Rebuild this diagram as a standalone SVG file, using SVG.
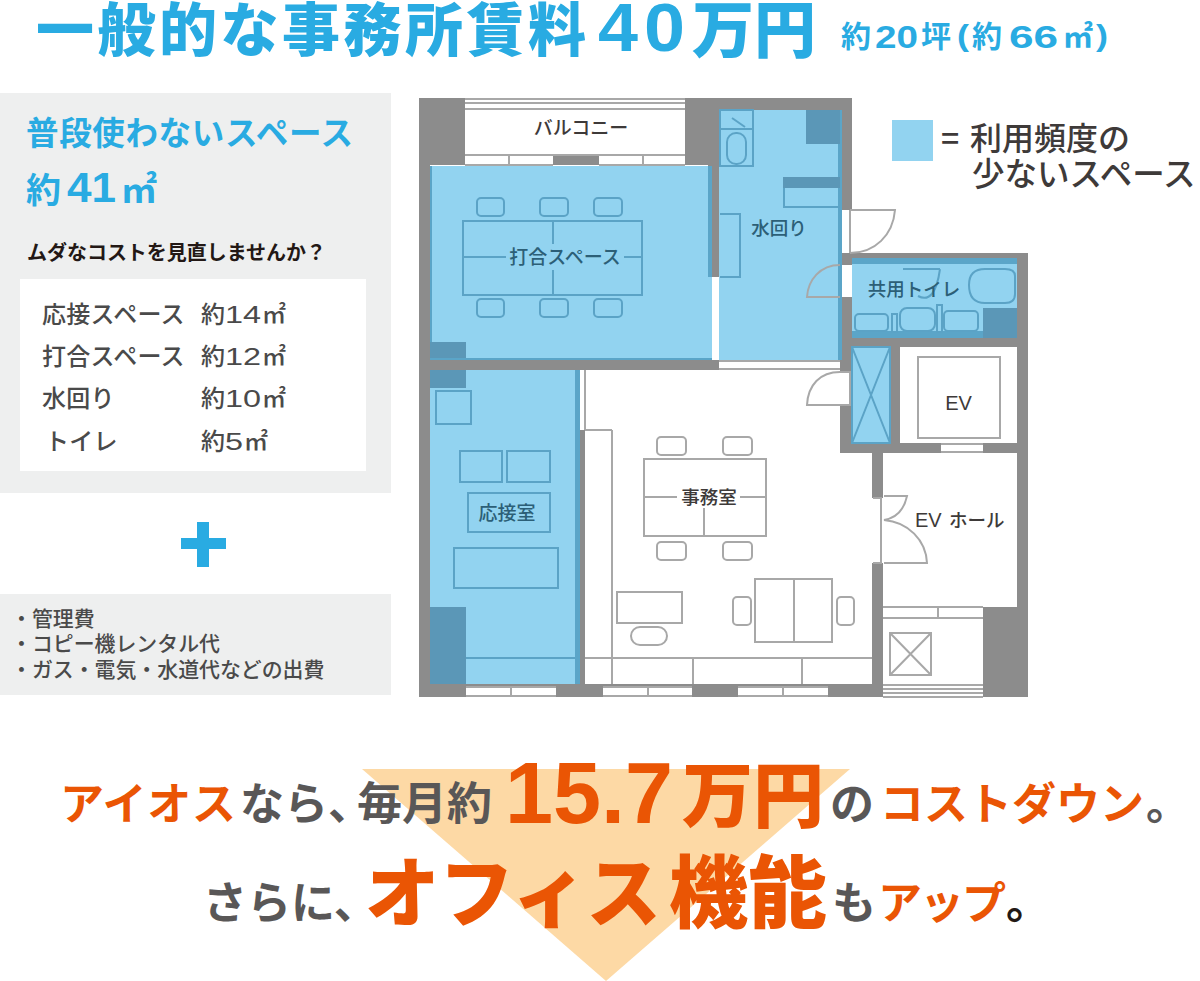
<svg xmlns="http://www.w3.org/2000/svg" width="1200" height="981" viewBox="0 0 1200 981">
<style>
text{font-family:"Noto Sans CJK JP","Noto Sans",sans-serif;white-space:pre}
.b{font-weight:700}
.h{font-weight:900}
.n{font-family:"Liberation Sans","Noto Sans CJK JP",sans-serif;font-weight:700}
.blue{fill:#29abe2}
.or{fill:#ea5504}
.gr{fill:#595757}
.dk{fill:#3e3a39}
.wall{fill:#8c8c8c}
.rm{fill:#92d3f0}
.dark{fill:#5b97b7}
.edge{fill:#5ba5c8}
.ln{fill:none;stroke:#a8a8a8;stroke-width:2}
.li{fill:none;stroke:#5ba3c6;stroke-width:2}
.lab{font-size:19px;font-weight:500;fill:#3e3a39;text-anchor:middle}
.labb{font-size:19px;font-weight:500;fill:#2c5f77;text-anchor:middle}
.list{font-size:24px;font-weight:500;fill:#4a4a4a;letter-spacing:.3px}
.d{font-family:"Liberation Sans",sans-serif;font-size:24px;fill:#4a4a4a}
.note{font-size:20.9px;font-weight:500;fill:#4a4a4a}
.s{font-size:44px}
.w{fill:#fff}
</style>
<rect width="1200" height="981" fill="#fff"/>
<g id="title">
<text x="36" y="51" font-size="58" class="h blue" textLength="550">一般的な事務所賃料</text>
<text x="598" y="51" font-size="68" class="n blue" textLength="40" lengthAdjust="spacingAndGlyphs">4</text>
<text x="644" y="51" font-size="68" class="n blue" textLength="41" lengthAdjust="spacingAndGlyphs">0</text>
<text x="692" y="53" font-size="62" class="h blue" textLength="124" lengthAdjust="spacingAndGlyphs">万円</text>
<g class="blue">
<text x="841" y="47" font-size="30" class="b">約</text>
<text x="875" y="48" font-size="31" class="n" textLength="43" lengthAdjust="spacingAndGlyphs">20</text>
<text x="921" y="47" font-size="30" class="b">坪</text>
<text x="957" y="46" font-size="29" class="n" textLength="12" lengthAdjust="spacingAndGlyphs">(</text>
<text x="972" y="47" font-size="30" class="b">約</text>
<text x="1009" y="48" font-size="31" class="n" textLength="49" lengthAdjust="spacingAndGlyphs">66</text>
<text x="1063" y="47" font-size="30" class="b">㎡</text>
<text x="1096" y="46" font-size="29" class="n" textLength="12" lengthAdjust="spacingAndGlyphs">)</text>
</g>
</g>
<g id="panel-unused">
<rect x="0" y="93" width="391" height="400" fill="#eeefef"/>
<rect x="20" y="279" width="346" height="192" fill="#fff"/>
<text x="26" y="145" font-size="32.5" class="b blue" textLength="327">普段使わないスペース</text>
<text x="26" y="203" font-size="35" class="b blue">約</text>
<text x="67" y="202" font-size="42" class="n blue" textLength="49" lengthAdjust="spacingAndGlyphs">41</text>
<text x="121" y="203" font-size="36" class="b blue">㎡</text>
<text x="27" y="260" font-size="20" class="b" fill="#231815" textLength="299">ムダなコストを見直しませんか？</text>
<text x="42" y="323" class="list">応接スペース</text>
<text x="201" y="323" class="list">約</text><text x="225" y="323" class="d" textLength="36" lengthAdjust="spacingAndGlyphs">14</text><text x="262" y="323" class="list">㎡</text>
<text x="42" y="365" class="list">打合スペース</text>
<text x="201" y="365" class="list">約</text><text x="225" y="365" class="d" textLength="36" lengthAdjust="spacingAndGlyphs">12</text><text x="262" y="365" class="list">㎡</text>
<text x="42" y="407" class="list">水回り</text>
<text x="201" y="407" class="list">約</text><text x="225" y="407" class="d" textLength="36" lengthAdjust="spacingAndGlyphs">10</text><text x="262" y="407" class="list">㎡</text>
<text x="45" y="450" class="list">トイレ</text>
<text x="201" y="450" class="list">約</text><text x="225" y="450" class="d" textLength="18" lengthAdjust="spacingAndGlyphs">5</text><text x="244" y="450" class="list">㎡</text>
</g>
<g id="plus"><path class="blue" d="M197 522h12v16h17v11h-17v18h-12v-18h-16v-11h16z"/></g>
<g id="panel-extra">
<rect x="0" y="594" width="391" height="101" fill="#eeefef"/>
<text x="11" y="626" class="note">・管理費</text>
<text x="11" y="651" class="note">・コピー機レンタル代</text>
<text x="11" y="677" class="note">・ガス・電気・水道代などの出費</text>
</g>
<g id="legend">
<rect x="892" y="120" width="41" height="41" class="rm"/>
<text x="941" y="150" font-size="32" font-weight="500" class="dk">=</text>
<text x="970" y="150" font-size="32" font-weight="500" class="dk">利用頻度の</text>
<text x="972" y="186" font-size="32.5" font-weight="500" class="dk">少ないスペース</text>
</g>
<g id="plan-structure">
<rect x="419" y="98" width="46" height="67" class="wall"/>
<rect x="685" y="98" width="35" height="67" class="wall"/>
<rect x="720" y="98" width="132" height="12" class="wall"/>
<rect x="419" y="98" width="11" height="599" class="wall"/>
<rect x="419" y="684" width="464" height="13" class="wall"/>
<rect x="553" y="155" width="46" height="10" class="wall"/>
<rect x="708" y="165" width="12" height="112" class="wall"/>
<rect x="430" y="360" width="289" height="10" class="wall"/>
<rect x="840" y="110" width="12" height="100" class="wall"/>
<rect x="840" y="253" width="188" height="12" class="wall"/>
<rect x="1017" y="253" width="11" height="354" class="wall"/>
<rect x="840" y="297" width="12" height="75" class="wall"/>
<rect x="840" y="405" width="12" height="48" class="wall"/>
<rect x="840" y="338" width="188" height="9" class="wall"/>
<rect x="890" y="347" width="10" height="100" class="wall"/>
<rect x="840" y="443" width="188" height="10" class="wall"/>
<rect x="872" y="453" width="11" height="45" class="wall"/>
<rect x="872" y="563" width="11" height="134" class="wall"/>
<rect x="575" y="430" width="10" height="254" class="wall"/>
<rect x="983" y="607" width="45" height="90" class="wall"/>
<path class="ln" d="M465 99H685M465 103H685M465 109H685M465 155H685M465 165H553M599 165H685M509 155V165M643 155V165"/>
<path class="w" d="M466 687h90v10h-90zM603 687h89v10h-89zM738 687h90v10h-90z"/>
<path class="ln" d="M466 687H556M466 696H556M511 687V696M603 687H692M603 696H692M648 687V696M738 687H828M738 696H828M783 687V696"/>
<path class="w" d="M941 443h42v10h-42z"/>
<path class="ln" d="M941 444H983M941 452H983"/>
<path class="ln" d="M719 361H840M719 369H840M840 372H850V405H840M873 498H881V563H873M585 370V430M585 658H872M612 430H585M612 430V684M693 658V684M802 658V684M883 607H983M883 618H983M938 607V618M883 685H983M883 689H983M883 693H983M883 697H983"/>
</g>
<g id="room-meeting">
<rect x="430" y="166" width="282" height="194" class="rm"/>
<rect x="430" y="166" width="2" height="194" class="edge"/>
<rect x="708" y="166" width="4" height="111" class="edge"/>
<rect x="430" y="342" width="36" height="18" class="dark"/>
<rect x="430" y="358" width="282" height="2" class="edge"/>
<path class="li" d="M463 221H642V295H463ZM553 221V244M553 270V295M463 257H506M624 257H642"/>
<g class="li"><rect x="477" y="198" width="27" height="18" rx="4"/><rect x="540" y="198" width="28" height="18" rx="4"/><rect x="594" y="198" width="28" height="18" rx="4"/><rect x="477" y="299" width="27" height="18" rx="4"/><rect x="540" y="299" width="28" height="18" rx="4"/><rect x="594" y="299" width="28" height="18" rx="4"/></g>
<text x="565" y="264" class="labb">打合スペース</text>
</g>
<g id="room-balcony"><text x="581" y="135" class="lab">バルコニー</text></g>
<g id="room-water">
<rect x="719" y="110" width="123" height="250" class="rm"/>
<rect x="838" y="110" width="4" height="250" class="edge"/>
<rect x="806" y="110" width="34" height="34" class="dark"/>
<rect x="783" y="177" width="57" height="11" class="dark"/>
<path class="li" d="M784 188V207H840M720 110H753V166H720ZM720 129H753M720 214H740V277H720"/>
<rect x="727" y="133" width="19" height="31" rx="9" class="li"/>
<path class="li" d="M732 118L745 127"/>
<text x="779" y="235" class="labb" style="font-size:18.5px">水回り</text>
</g>
<g id="room-toilet">
<rect x="852" y="258" width="165" height="80" class="rm"/>
<rect x="852" y="258" width="165" height="6" class="edge"/>
<rect x="852" y="331" width="165" height="7" class="edge"/>
<rect x="983" y="308" width="34" height="30" class="dark"/>
<g class="li"><rect x="855" y="314" width="33" height="17" rx="4"/><rect x="900" y="308" width="35" height="23" rx="7"/><rect x="944" y="311" width="34" height="20" rx="4"/><rect x="892" y="314" width="5" height="18"/><rect x="937" y="305" width="5" height="27"/><path d="M1005 269H985Q969 269 969 285Q969 303 985 303H1005Q1015 303 1015 294V276Q1015 269 1005 269Z"/><path d="M903 269H940M918 296Q935 305 940 269"/></g>
<text x="914" y="296" class="labb" style="font-size:18.5px">共用トイレ</text>
</g>
<g id="doors">
<path class="ln" d="M850 210H895C893 235 875 253 850 253M850 210V253"/>
<path class="ln" d="M840 265C820 265 808 280 807 297H840"/>
<path class="ln" d="M840 372C820 372 808 385 807 405H840"/>
<path class="ln" d="M884 496H907C904 510 896 518 884 520C908 522 926 540 927 563H884"/>
</g>
<g id="room-shaft">
<rect x="852" y="347" width="38" height="96" class="rm"/>
<path class="li" d="M852 347H890V443H852ZM852 347L890 443M890 347L852 443"/>
</g>
<g id="room-ev">
<rect x="918" y="357" width="82" height="81" class="ln"/>
<text x="958.500" y="410" font-size="20" fill="#3e3a39" text-anchor="middle" style="font-family:'Liberation Sans',sans-serif">EV</text>
</g>
<g id="room-ev-hall">
<text x="915" y="527" font-size="20" fill="#3e3a39" style="font-family:'Liberation Sans',sans-serif">EV</text>
<text x="949" y="527" font-size="18.5" font-weight="500" fill="#3e3a39">ホール</text>
<rect x="890" y="633" width="41" height="42" class="ln"/>
<path class="ln" d="M890 633L931 675M931 633L890 675"/>
</g>
<g id="room-reception">
<rect x="430" y="370" width="150" height="314" class="rm"/>
<rect x="575" y="370" width="5" height="314" class="edge"/>
<rect x="430" y="370" width="36" height="18" class="dark"/>
<rect x="430" y="607" width="36" height="77" class="dark"/>
<path class="li" d="M466 658H575"/>
<g class="li"><rect x="436" y="391" width="35" height="33"/><rect x="460" y="451" width="42" height="31"/><rect x="507" y="451" width="43" height="31"/><rect x="468" y="493" width="82" height="39"/><rect x="454" y="548" width="104" height="40"/></g>
<text x="507" y="520" class="labb" style="font-size:19px">応接室</text>
</g>
<g id="room-office">
<path class="ln" d="M644 459H766V536H644ZM704 508V536M644 497H677M740 497H766"/>
<g class="ln"><rect x="657" y="437" width="29" height="18" rx="4"/><rect x="723" y="437" width="29" height="18" rx="4"/><rect x="657" y="542" width="29" height="18" rx="4"/><rect x="723" y="542" width="29" height="18" rx="4"/>
<rect x="617" y="592" width="65" height="31"/><rect x="631" y="627" width="36" height="18" rx="9"/><rect x="755" y="579" width="77" height="63"/><path d="M794 579V642"/><rect x="733" y="597" width="18" height="28" rx="4"/><rect x="837" y="597" width="17" height="28" rx="4"/></g>
<text x="709" y="504" class="lab" style="font-size:18.5px">事務室</text>
</g>
<g id="callout">
<polygon points="362,769 850,769 606,981" fill="#fdd9a5"/>
<text x="60" y="820" class="s b or" textLength="176">アイオス</text>
<text x="240" y="820" class="s b gr">なら、</text>
<text x="357" y="820" font-size="45" class="b gr">毎月約</text>
<text x="505" y="823" font-size="87" class="n or" textLength="168" lengthAdjust="spacingAndGlyphs">15.7</text>
<text x="682" y="821" font-size="71" class="h or" textLength="142" lengthAdjust="spacingAndGlyphs">万円</text>
<text x="830" y="820" class="s b gr">の</text>
<text x="880" y="820" class="s b or" textLength="264">コストダウン</text>
<text x="1146" y="820" class="s b gr">。</text>
<text x="203" y="919" class="s b gr">さらに、</text>
<text x="365" y="921" font-size="76" class="h or" textLength="296" lengthAdjust="spacingAndGlyphs">オフィス</text>
<text x="669" y="922" font-size="79" class="h or" textLength="158" lengthAdjust="spacingAndGlyphs">機能</text>
<text x="832" y="919" class="s b gr">も</text>
<text x="878" y="919" font-size="44" class="b or" textLength="128">アップ</text>
<text x="1006" y="919" class="s b" fill="#231815">。</text>
</g>
</svg>
